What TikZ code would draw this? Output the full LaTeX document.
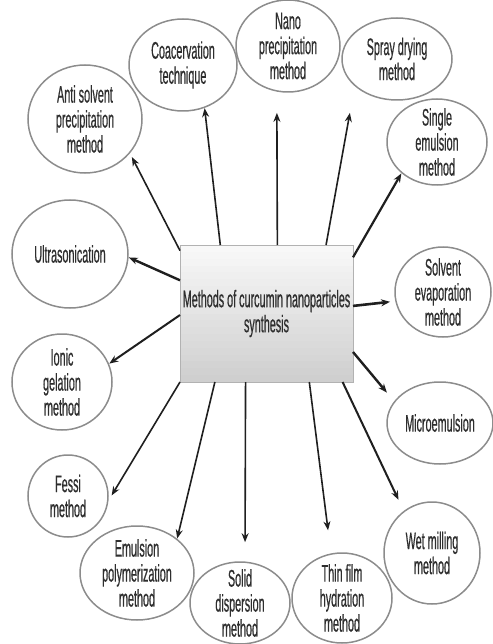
\documentclass[tikz,border=0pt]{standalone}
\usepackage{fontspec}
\newfontfamily\narrowsf[FakeStretch=0.45,FakeBold=0.5]{Liberation Sans}
\usetikzlibrary{shapes.geometric,arrows.meta}
\definecolor{hubtop}{RGB}{248,248,248}
\definecolor{hubbot}{RGB}{205,205,205}

\begin{document}
\begin{tikzpicture}[x=1pt, y=-1pt, >={Stealth[length=9pt,width=7pt]},
  font={\narrowsf\fontsize{24pt}{25pt}\selectfont}, text=black!82,
  meth/.style 2 args={draw=black!45, line width=1.5pt, ellipse, inner sep=-10pt,
    outer sep=0pt, align=center, minimum width=#1, minimum height=#2},
  hub/.style={draw=black!30, line width=0.8pt, rectangle, inner sep=0pt, outer sep=0pt,
    minimum width=173pt, minimum height=137pt, align=center,
    path picture={\foreach \k in {0,...,19}{
      \pgfmathtruncatemacro\pc{5*\k}
      \fill[hubbot!\pc!hubtop] ([yshift=-\k*6.85pt]path picture bounding box.north west)
        rectangle ([yshift=-\k*6.85pt-7.2pt]path picture bounding box.north east);}}},
  arr/.style={->, line width=1.6pt, draw=black!88}]
  \useasboundingbox (0,0) rectangle (492,644);
  % centre box
  \node[hub] (hub) at (266.5,313.5) {Methods of curcumin nanoparticles\\synthesis};
  % methods round it
  \node[meth={114pt}{108pt}] (anti) at (85,119) {Anti solvent\\precipitation\\method};
  \node[meth={108pt}{92pt}] (coac) at (183,65) {Coacervation\\technique};
  \node[meth={104pt}{92pt}] (nano) at (288,46) {Nano\\precipitation\\method};
  \node[meth={110pt}{82pt}] (spray) at (397,59) {Spray drying\\method};
  \node[meth={100pt}{86pt}] (single) at (437,142) {Single\\emulsion\\method};
  \node[meth={116pt}{108pt}] (ultra) at (70,254) {Ultrasonication};
  \node[meth={100pt}{96pt}] (ionic) at (62,382) {Ionic\\gelation\\method};
  \node[meth={96pt}{90pt}] (solv) at (443,292) {Solvent\\evaporation\\method};
  \node[meth={106pt}{82pt}] (micro) at (440,423) {Microemulsion};
  \node[meth={80pt}{82pt}] (fessi) at (68,496) {Fessi\\method};
  \node[meth={114pt}{94pt}] (emul) at (137,573) {Emulsion\\polymerization\\method};
  \node[meth={100pt}{82pt}] (solid) at (240,603) {Solid\\dispersion\\method};
  \node[meth={100pt}{90pt}] (thin) at (342,598) {Thin film\\hydration\\method};
  \node[meth={96pt}{102pt}] (wet) at (432,553) {Wet milling\\method};
  % arrows out of the box
  \draw[arr, shorten >=5pt] (hub.144) -- (anti.-37);
  \draw[arr, shorten >=1pt] (hub.124) -- (coac.-63);
  \draw[arr, shorten >=22pt] (hub.81) -- (nano.-104);
  \draw[arr, shorten >=28pt] (hub.49) -- (spray.-148);
  \draw[arr, line width=2.2pt, shorten >=1pt] (hub.33) -- (single.-139);
  \draw[arr, line width=2.4pt, shorten >=1pt] (hub.159) -- (ultra.-3);
  \draw[arr, line width=2pt, shorten >=1pt] (hub.181) -- (ionic.21);
  \draw[arr, line width=2.6pt, shorten >=6pt] (hub.5) -- (solv.-169);
  \draw[arr, line width=2.4pt, shorten >=12pt] (hub.-24) -- (micro.155);
  \draw[arr, shorten >=8pt] (hub.south west) -- (fessi.-9);
  \draw[arr, shorten >=1pt] (hub.-127) -- (emul.40);
  \draw[arr, shorten >=20pt] (hub.-107) -- (solid.83);
  \draw[arr, shorten >=24pt] (hub.-58) -- (thin.104);
  \draw[arr, line width=2pt, shorten >=13pt] (hub.-42) -- (wet.124);
\end{tikzpicture}
\end{document}
